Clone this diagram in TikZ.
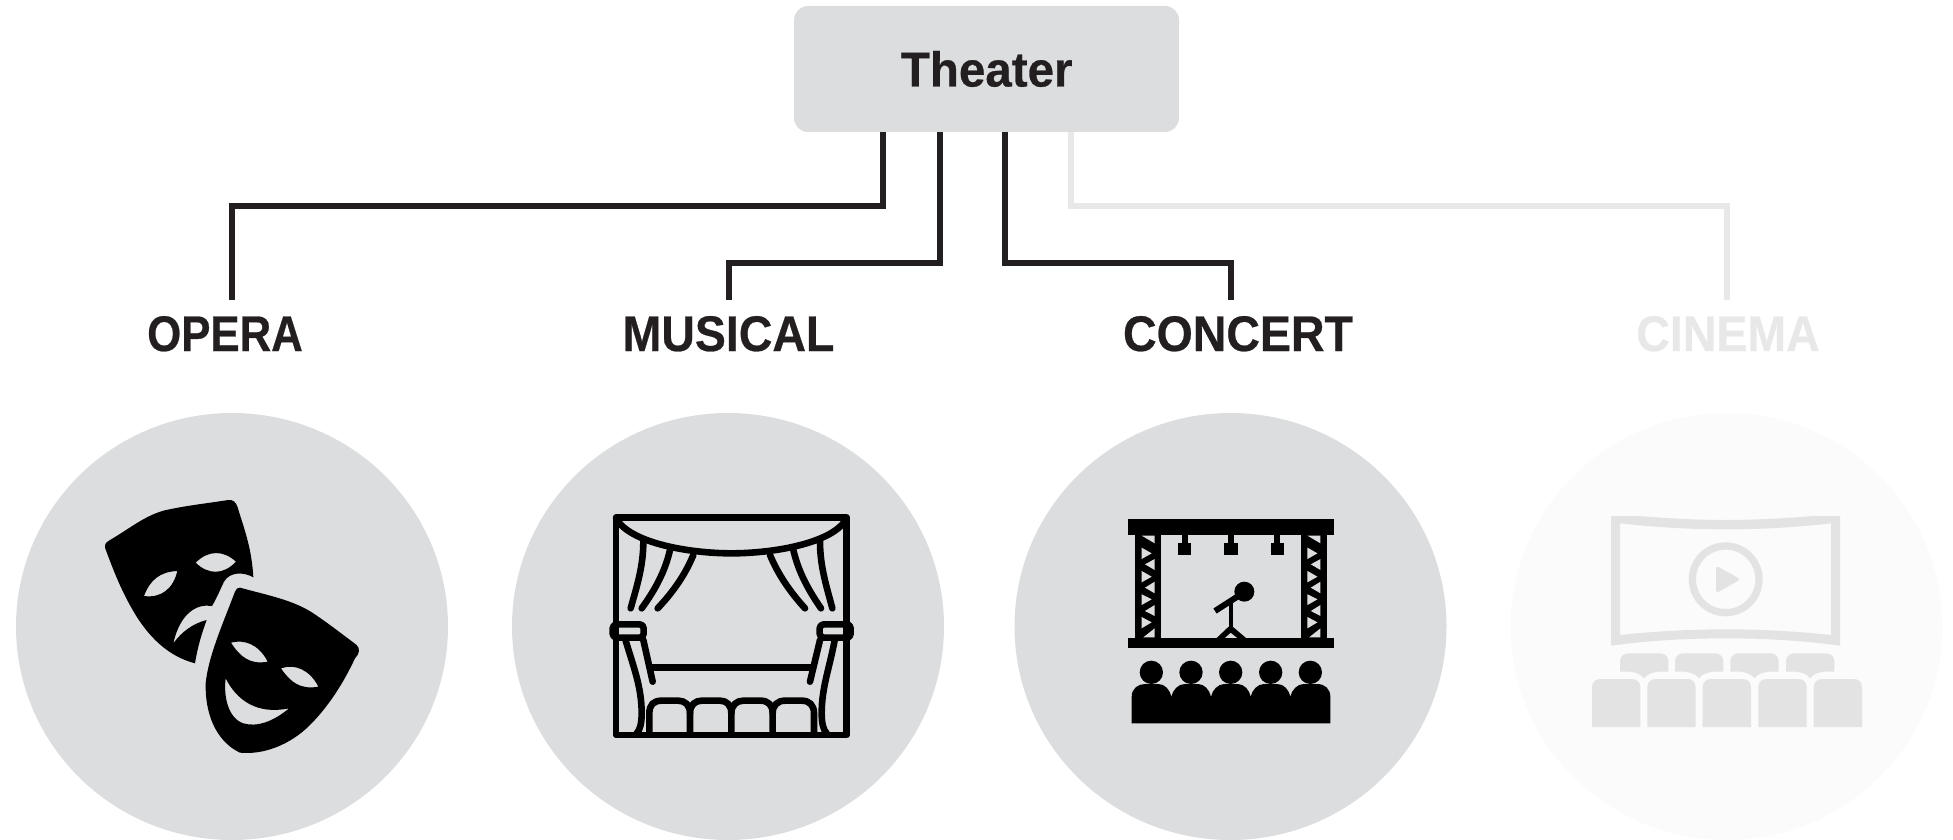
\documentclass[tikz,border=0pt]{standalone}
\usepackage{fontspec}
\usetikzlibrary{shapes.geometric}
\newfontfamily\lab[FakeStretch=0.93,FakeBold=0.5]{Liberation Sans Bold}
\newfontfamily\labn[FakeStretch=0.875,FakeBold=0.5]{Liberation Sans Bold}
\newfontfamily\ttl[FakeStretch=0.97,FakeBold=0.5]{Liberation Sans Bold}
\definecolor{ink}{HTML}{231F20}
\definecolor{pale}{HTML}{E8E8E8}
\definecolor{disc}{HTML}{DCDDDF}
\definecolor{discoff}{HTML}{FBFBFB}
\definecolor{iconoff}{HTML}{E3E3E3}
\tikzset{
  link/.style={draw=ink,line width=5.3pt,line join=miter},
  linkoff/.style={draw=pale,line width=5.3pt,line join=miter},
  lbl/.style={anchor=base,inner xsep=0pt,inner ysep=15pt,text height=36pt,text depth=0pt,text=ink,font=\fontsize{50}{50}\lab},
  lblnarrow/.style={lbl,font=\fontsize{50}{50}\labn},
  lbloff/.style={lbl,text=pale},
  disk/.style={ellipse,fill=disc,minimum width=432pt,minimum height=427pt,inner sep=0pt},
  diskoff/.style={disk,fill=discoff},
  zoomed/.style={x=0.33333pt,y=-0.33333pt},
  thin line/.style={draw=black,line width=6.6pt,line cap=round,line join=round},
}
\newcommand{\trussholes}{%
  \fill[disc] (95,107) -- (134,107) -- (134,130) -- cycle;
  \fill[disc] (95,143) -- (125,160) -- (95,177) -- cycle;
  \fill[disc] (134,177) -- (105,193) -- (134,210) -- cycle;
  \fill[disc] (95,213) -- (125,230) -- (95,247) -- cycle;
  \fill[disc] (134,245) -- (105,263) -- (134,280) -- cycle;
  \fill[disc] (95,283) -- (125,298) -- (95,315) -- cycle;
  \fill[disc] (134,315) -- (105,333) -- (134,348) -- cycle;
  \fill[disc] (95,351) -- (125,367) -- (95,385) -- cycle;
  \fill[disc] (134,385) -- (100,412) -- (134,412) -- cycle;
}
\begin{document}
\begin{tikzpicture}[x=1pt,y=-1pt]
\useasboundingbox (0,0) rectangle (1953,840);
\node[fill=disc,rounded corners=14pt,minimum width=385pt,minimum height=126pt,inner sep=0pt] (theater) at (986.5,69) {};
\node[anchor=base,text=ink,font=\fontsize{49}{49}\ttl,inner sep=0pt] (theatertext) at (986.7,86.5) {Theater};
\node[lblnarrow] (opera) at (225,351) {OPERA};
\node[lbl] (musical) at (728.5,351) {MUSICAL};
\node[lbl] (concert) at (1238,351) {CONCERT};
\node[lbloff] (cinema) at (1728,351) {CINEMA};
\node[disk] (d1) at (232,626.5) {};
\node[disk] (d2) at (728,626.5) {};
\node[disk] (d3) at (1230.5,626.5) {};
\node[diskoff] (d4) at (1726.5,626.5) {};
\coordinate (e1) at (883,206); \coordinate (f1) at (232,206);
\coordinate (e2) at (940,263); \coordinate (f2) at (729,263);
\coordinate (e3) at (1005,263); \coordinate (f3) at (1231,263);
\coordinate (e4) at (1071,206); \coordinate (f4) at (1727,206);
\draw[linkoff] (theater.south -| e4) -- (e4) -- (f4) -- (f4 |- cinema.north);
\draw[link] (theater.south -| e1) -- (e1) -- (f1) -- (f1 |- opera.north);
\draw[link] (theater.south -| e2) -- (e2) -- (f2) -- (f2 |- musical.north);
\draw[link] (theater.south -| e3) -- (e3) -- (f3) -- (f3 |- concert.north);
% masks
\begin{scope}[shift={(80,480)},zoomed]
\fill[black,even odd rule]
 (75,203) .. controls (73,192) and (80,186) .. (90,180) .. controls (150,145) and (190,110) .. (250,92) .. controls (310,78) and (380,70) .. (445,60) .. controls (458,58) and (468,66) .. (473,82) .. controls (490,140) and (515,200) .. (520,292)
 .. controls (490,275) and (450,275) .. (432,305) .. controls (420,330) and (410,355) .. (396,378)
 .. controls (350,370) and (300,400) .. (280,490) .. controls (305,455) and (340,430) .. (380,420)
 .. controls (365,460) and (352,505) .. (345,550) .. controls (270,530) and (215,480) .. (170,410) .. controls (130,345) and (105,285) .. (75,203) -- cycle
 (347,248) .. controls (385,210) and (430,210) .. (468,245) .. controls (430,285) and (385,285) .. (347,248) -- cycle
 (192,348) .. controls (210,300) and (240,275) .. (292,273) .. controls (280,325) and (245,355) .. (192,348) -- cycle;
\fill[black,even odd rule]
 (480,323) .. controls (560,345) and (640,360) .. (700,400) .. controls (745,430) and (790,465) .. (830,495) .. controls (840,505) and (840,520) .. (825,535) .. controls (790,610) and (745,680) .. (690,735) .. controls (630,795) and (550,825) .. (480,818) .. controls (420,790) and (375,720) .. (377,610) .. controls (385,530) and (425,440) .. (465,335) .. controls (468,327) and (473,322) .. (480,323) -- cycle
 (453,488) .. controls (490,478) and (535,490) .. (563,545) .. controls (510,555) and (480,530) .. (453,488) -- cycle
 (603,565) .. controls (645,550) and (690,570) .. (715,620) .. controls (660,630) and (630,605) .. (603,565) -- cycle
 (437,595) .. controls (470,660) and (530,705) .. (627,685) .. controls (580,725) and (530,742) .. (490,730) .. controls (445,715) and (430,650) .. (437,595) -- cycle;
\end{scope}
% curtains
\begin{scope}[shift={(590,500)},zoomed]
\draw[thin line] (78,52) rectangle (770,705);
\draw[thin line] (78,55) .. controls (120,130) and (300,160) .. (424,160) .. controls (550,160) and (730,130) .. (770,55);
\draw[thin line] (160,125) .. controls (160,200) and (140,260) .. (122,325);
\draw[thin line] (240,150) .. controls (225,215) and (195,270) .. (155,325);
\draw[thin line] (310,165) .. controls (285,225) and (250,275) .. (203,325);
\draw[thin line] (690,125) .. controls (690,200) and (710,260) .. (727,325);
\draw[thin line] (610,150) .. controls (625,215) and (655,270) .. (693,325);
\draw[thin line] (540,165) .. controls (565,225) and (600,275) .. (645,325);
\draw[thin line,rounded corners=4pt] (68,373) rectangle (161,413);
\draw[thin line,rounded corners=4pt] (689,373) rectangle (782,413);
\draw[thin line] (105,415) .. controls (130,500) and (155,560) .. (155,640) .. controls (155,670) and (150,690) .. (140,700);
\draw[thin line] (160,420) -- (188,545);
\draw[thin line] (690,420) -- (660,545);
\draw[thin line] (735,415) .. controls (720,500) and (695,560) .. (695,640) .. controls (695,670) and (700,690) .. (710,700);
\draw[thin line] (185,503) -- (665,503);
\draw[thin line] (178,700) -- (178,640) .. controls (178,615) and (190,602) .. (215,602) -- (265,602) .. controls (285,602) and (300,615) .. (300,640) -- (300,700);
\draw[thin line] (300,640) .. controls (300,615) and (315,602) .. (335,602) -- (390,602) .. controls (410,602) and (424,615) .. (424,640) -- (424,700);
\draw[thin line] (424,640) .. controls (424,615) and (440,602) .. (460,602) -- (512,602) .. controls (534,602) and (548,615) .. (548,640) -- (548,700);
\draw[thin line] (548,640) .. controls (548,615) and (563,602) .. (585,602) -- (635,602) .. controls (658,602) and (672,615) .. (672,640) -- (672,700);
\end{scope}
% concert
\begin{scope}[shift={(1110,500)},zoomed]
\fill[black] (55,58) rectangle (671,106);
\fill[black] (55,413) rectangle (671,443);
\fill[black] (75,106) rectangle (154,413);
\fill[black] (573,106) rectangle (652,413);
\trussholes
\begin{scope}[xshift=165.8pt]\trussholes\end{scope}
\foreach \q in {224,363,502}{
  \fill[black] (\q-9,106) rectangle (\q+9,128);
  \fill[black] (\q-20,128) rectangle (\q+20,166);
}
\fill[black] (403,275) circle[radius=30];
\draw[black,line width=6pt] (315,333) -- (385,288);
\draw[black,line width=4pt] (362,310) -- (362,385);
\fill[black] (320,414) -- (356,380) -- (368,380) -- (408,414) -- (382,414) -- (362,398) -- (344,414) -- cycle;
\foreach \q in {124,243,362,482,601}{
  \fill[black] (\q,517) circle[radius=35];
}
\fill[black] (65,670) -- (65,590) .. controls (65,565) and (85,552) .. (105,552) -- (145,552) .. controls (165,552) and (180,570) .. (184,590)
 .. controls (188,570) and (205,552) .. (224,552) -- (264,552) .. controls (284,552) and (298,570) .. (303,590)
 .. controls (307,570) and (324,552) .. (343,552) -- (383,552) .. controls (403,552) and (418,570) .. (422,590)
 .. controls (426,570) and (443,552) .. (462,552) -- (502,552) .. controls (522,552) and (537,570) .. (541,590)
 .. controls (545,570) and (562,552) .. (581,552) -- (621,552) .. controls (645,552) and (661,567) .. (661,590) -- (661,670) -- cycle;
\end{scope}
% cinema
\begin{scope}[shift={(1570,500)},zoomed]
\fill[iconoff,even odd rule] (123,48) -- (205,48) .. controls (290,55) and (380,60) .. (467,60) .. controls (555,60) and (645,55) .. (730,48) -- (810,48) -- (810,437) .. controls (700,422) and (590,415) .. (467,415) .. controls (345,415) and (235,422) .. (123,437) -- cycle
 (150,70) .. controls (255,82) and (360,88) .. (467,88) .. controls (575,88) and (680,82) .. (783,70) -- (783,405) .. controls (680,394) and (575,388) .. (467,388) .. controls (360,388) and (255,394) .. (150,405) -- cycle;
\draw[iconoff,line width=7.3pt] (467,238) circle[radius=100];
\fill[iconoff,rounded corners=3pt] (438,197) -- (512,238) -- (438,280) -- cycle;
\foreach \q in {150,315,481,648}{
  \fill[iconoff] (\q,515) -- (\q,485) .. controls (\q,470) and (\q+10,460) .. (\q+25,460) -- (\q+120,460) .. controls (\q+135,460) and (\q+145,470) .. (\q+145,485) -- (\q+145,515) -- (\q+115,515) .. controls (\q+95,518) and (\q+82,522) .. (\q+72,535) .. controls (\q+62,522) and (\q+50,518) .. (\q+30,515) -- cycle;
}
\foreach \q in {66,232,398,565,731}{
  \fill[iconoff] (\q,681) -- (\q,562) .. controls (\q,547) and (\q+10,537) .. (\q+25,537) -- (\q+120,537) .. controls (\q+135,537) and (\q+145,547) .. (\q+145,562) -- (\q+145,681) -- cycle;
}
\end{scope}
\end{tikzpicture}
\end{document}
